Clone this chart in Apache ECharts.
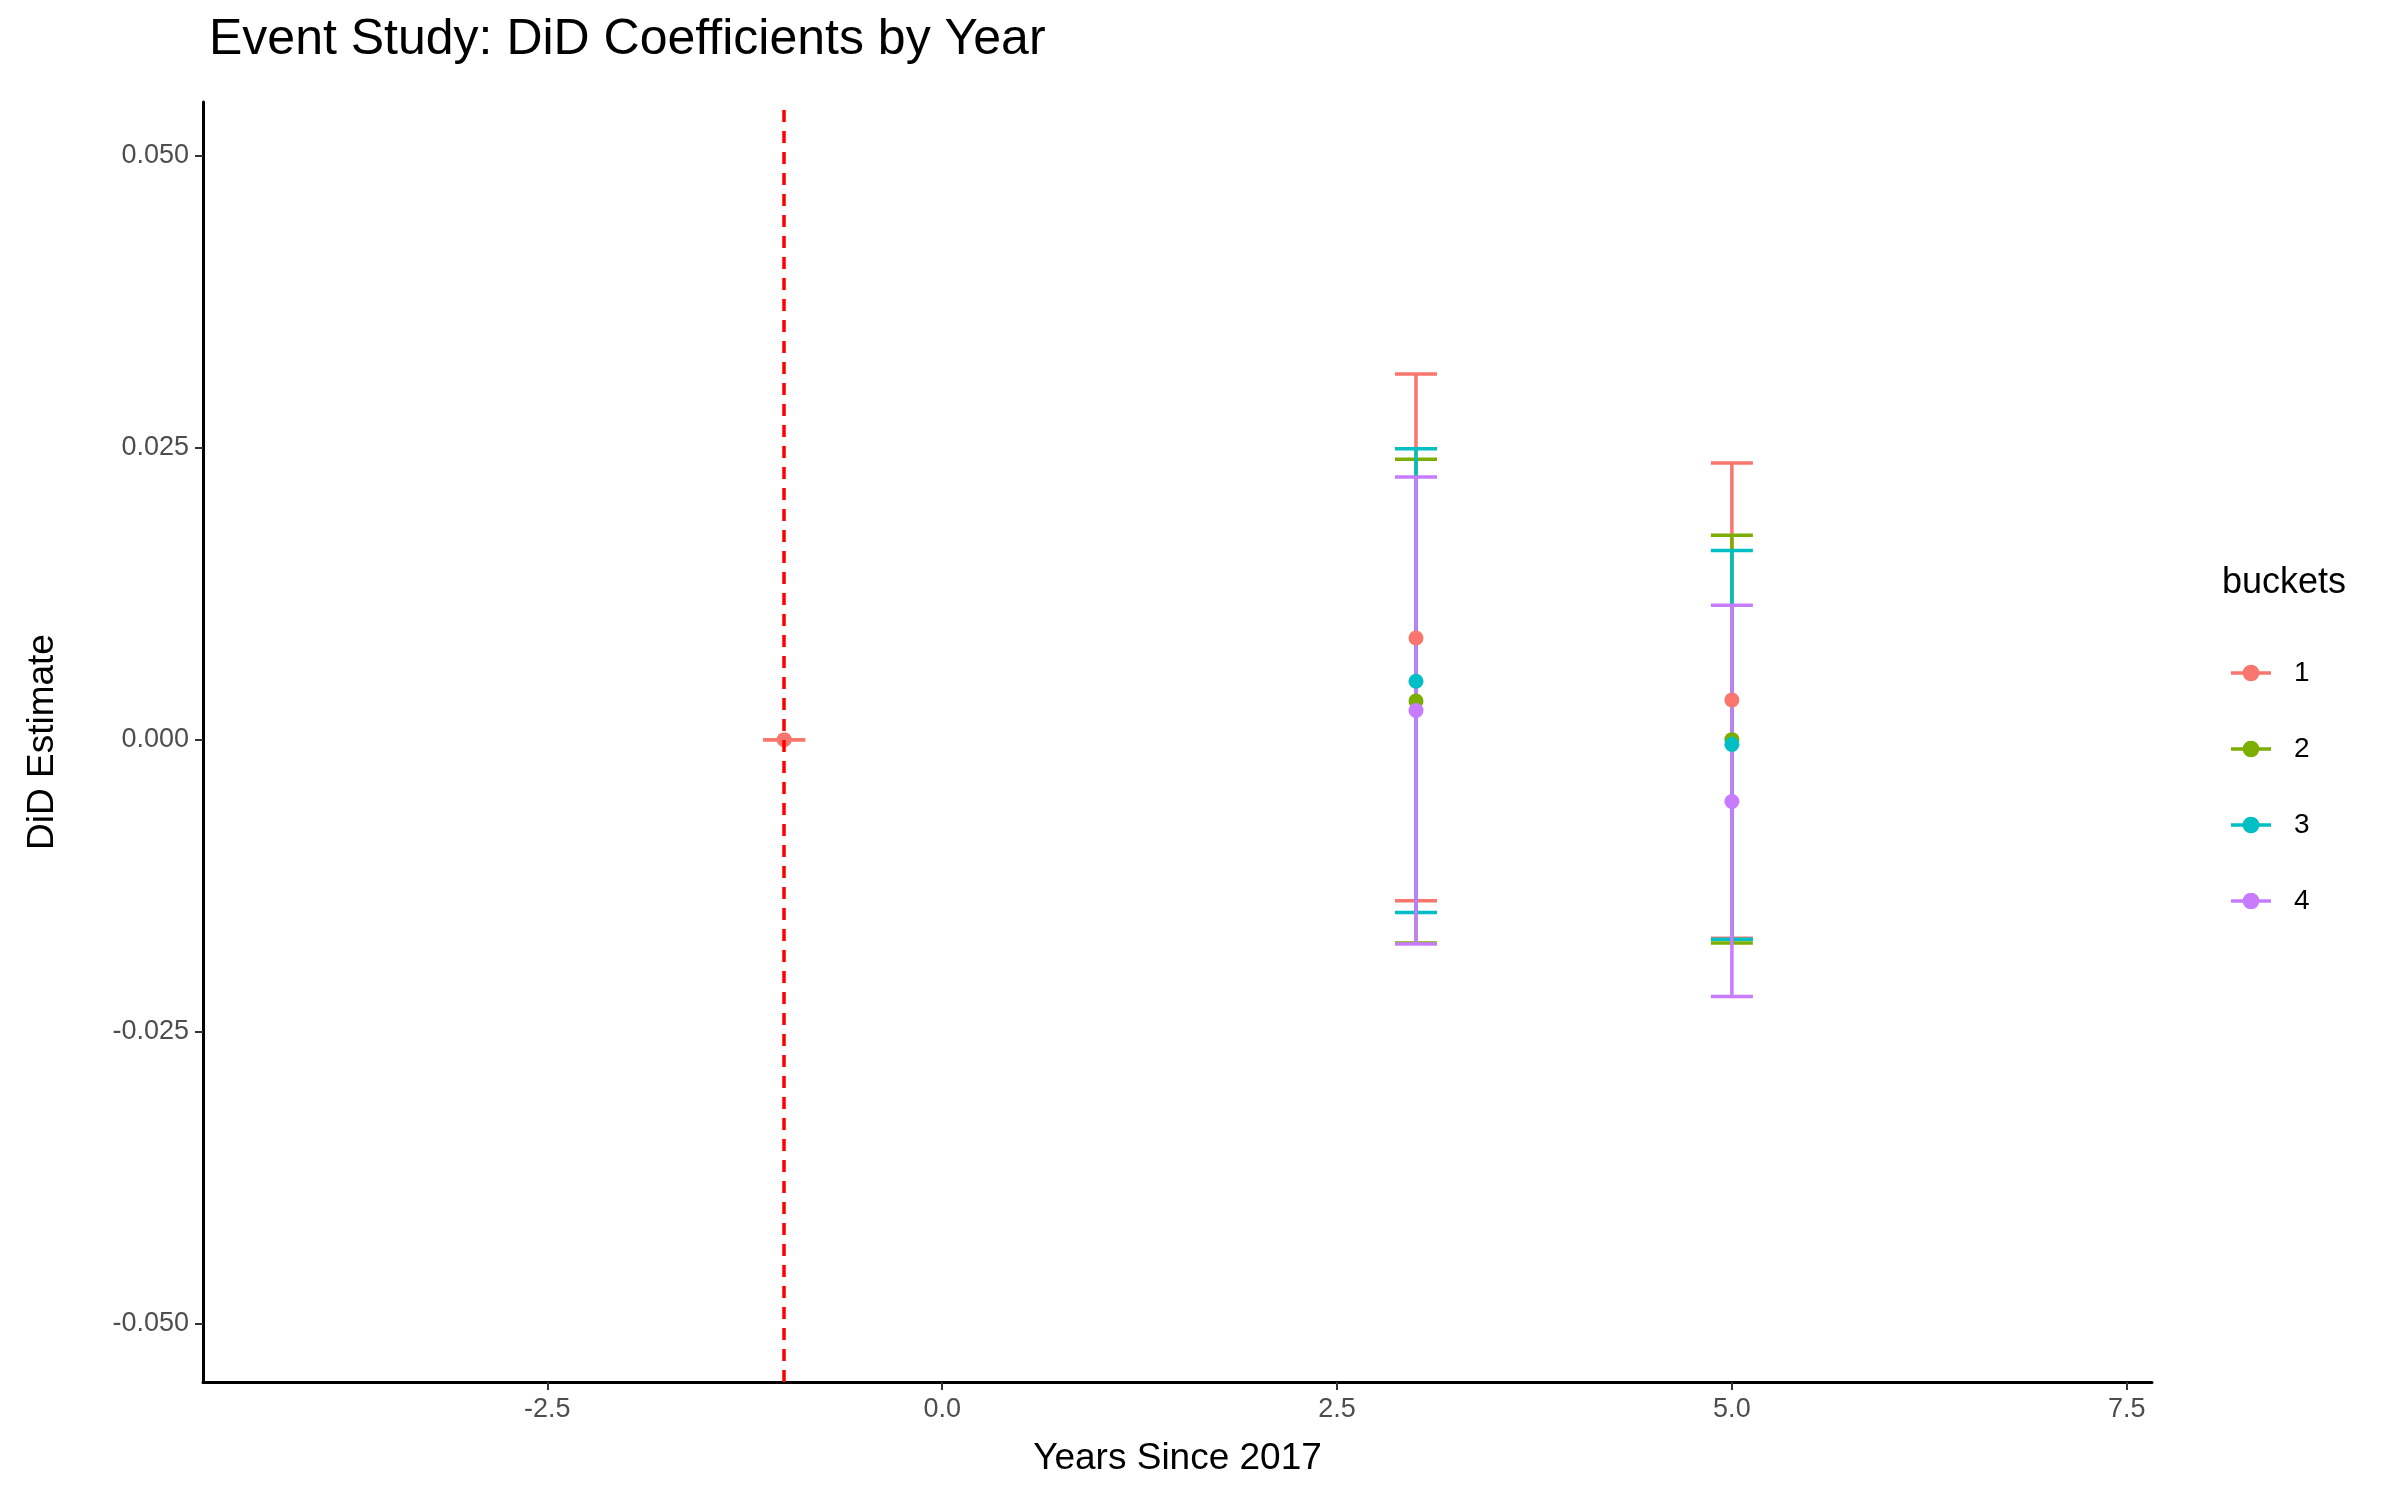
<!DOCTYPE html>
<html>
<head>
<meta charset="utf-8">
<script src="https://cdn.jsdelivr.net/npm/echarts@6/dist/echarts.min.js"></script>
<style>body{margin:0;background:#fff}#c{width:2400px;height:1500px}</style>
</head>
<body>
<div id="c"></div>
<script>
// 数据
var buckets = ['1', '2', '3', '4'];
var colors = ['#F8766D', '#7CAE00', '#00BFC4', '#C77CFF'];
// [year, estimate, low, high]
var bucket1 = [[-1, 0, 0, 0], [3, 0.0087, -0.0138, 0.0313], [5, 0.0034, -0.0170, 0.0237]];
var bucket2 = [[3, 0.0033, -0.0174, 0.0240], [5, 0.0000, -0.0174, 0.0175]];
var bucket3 = [[3, 0.0050, -0.0148, 0.0249], [5, -0.0004, -0.0171, 0.0162]];
var bucket4 = [[3, 0.0025, -0.0175, 0.0225], [5, -0.0053, -0.0220, 0.0115]];
var xTicks = [-2.5, 0, 2.5, 5, 7.5];
var yTicks = [-0.05, -0.025, 0, 0.025, 0.05];
var eventLine = -1;

var allData = [bucket1, bucket2, bucket3, bucket4];
var chart = echarts.init(document.getElementById('c'));
var series = [];
allData.forEach(function (d, i) {
    series.push({
        name: buckets[i], type: 'custom', z: 2,
        itemStyle: { color: colors[i] },
        data: d.map(function (r) { return [r[0], r[2], r[3]]; }),
        renderItem: function (params, api) {
            var lo = api.coord([api.value(0), api.value(1)]);
            var hi = api.coord([api.value(0), api.value(2)]);
            var w = 21;
            var st = { stroke: colors[i], lineWidth: 3.5 };
            return { type: 'group', children: [
                { type: 'line', shape: { x1: lo[0], y1: lo[1], x2: hi[0], y2: hi[1] }, style: st },
                { type: 'line', shape: { x1: lo[0] - w, y1: lo[1], x2: lo[0] + w, y2: lo[1] }, style: st },
                { type: 'line', shape: { x1: hi[0] - w, y1: hi[1], x2: hi[0] + w, y2: hi[1] }, style: st }
            ] };
        }
    });
    series.push({
        name: buckets[i], type: 'scatter', z: 3, symbolSize: 15,
        itemStyle: { color: colors[i], opacity: 1 },
        data: d.map(function (r) { return [r[0], r[1]]; })
    });
});
series[0].markLine = {
    silent: true, symbol: 'none', label: { show: false },
    lineStyle: { color: '#FF0000', type: [12, 9], width: 3.5 },
    data: [{ xAxis: eventLine }]
};

var legendIcon = 'path://M0,9H24V11H0Z M17,10A5,5 0 1,1 7,10A5,5 0 1,1 17,10Z';
var option = {
    backgroundColor: '#fff',
    animation: false,
    title: {
        text: 'Event Study: DiD Coefficients by Year', left: 204, top: 10,
        textStyle: { fontFamily: 'Liberation Sans', fontWeight: 'normal', fontSize: 50, color: '#000' }
    },
    legend: {
        data: buckets, orient: 'vertical', left: 2226, top: 654, itemGap: 48,
        itemWidth: 40, itemHeight: 20, icon: legendIcon,
        textStyle: { fontFamily: 'Liberation Sans', fontSize: 28, color: '#000', padding: [0, 0, 0, 18] }
    },
    graphic: [{ type: 'text', left: 2222, top: 565,
        style: { text: 'buckets', fontFamily: 'Liberation Sans', fontSize: 36, fill: '#000' } }],
    grid: { left: 203, right: 248, top: 102, bottom: 118 },
    xAxis: {
        type: 'value', min: -4.68, max: 7.66,
        name: 'Years Since 2017', nameLocation: 'middle', nameGap: 58,
        nameTextStyle: { fontFamily: 'Liberation Sans', fontSize: 37, color: '#000' },
        axisLine: { onZero: false, lineStyle: { color: '#000', width: 3 } },
        axisTick: { customValues: xTicks, length: 8, lineStyle: { color: '#333', width: 2 } },
        axisLabel: { customValues: xTicks, margin: 14, fontFamily: 'Liberation Sans', fontSize: 27, color: '#4d4d4d',
            formatter: function (v) { return v.toFixed(1); } },
        splitLine: { show: false }
    },
    yAxis: {
        type: 'value', min: -0.055, max: 0.0546,
        name: 'DiD Estimate', nameLocation: 'middle', nameGap: 142, nameRotate: 90,
        nameTextStyle: { fontFamily: 'Liberation Sans', fontSize: 37, color: '#000' },
        axisLine: { show: true, onZero: false, lineStyle: { color: '#000', width: 3 } },
        axisTick: { show: true, customValues: yTicks, length: 8, lineStyle: { color: '#333', width: 2 } },
        axisLabel: { customValues: yTicks, margin: 14, fontFamily: 'Liberation Sans', fontSize: 27, color: '#4d4d4d',
            formatter: function (v) { return v.toFixed(3); } },
        splitLine: { show: false }
    },
    series: series
};
option && chart.setOption(option);
</script>
</body>
</html>
